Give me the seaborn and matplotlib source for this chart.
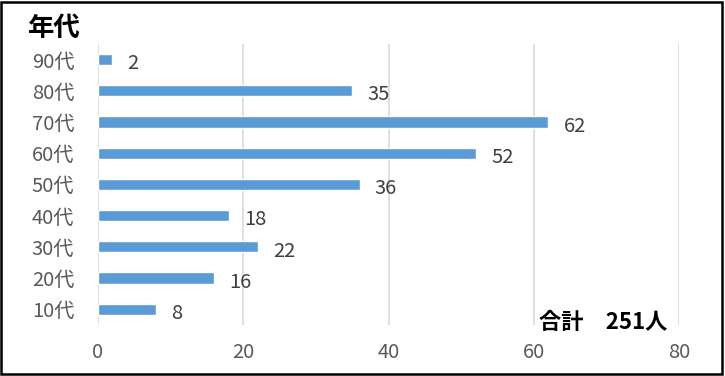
import matplotlib
matplotlib.use("Agg")
import matplotlib.pyplot as plt
import seaborn as sns
import pandas as pd
from matplotlib.patches import Rectangle

categorias = ["90代", "80代", "70代", "60代", "50代", "40代", "30代", "20代", "10代"]
valores = [2, 35, 62, 52, 36, 18, 22, 16, 8]
ticks_x = [0, 20, 40, 60, 80]
titulo = "年代"
total = "合計　251人"

df = pd.DataFrame({"年代": categorias, "人数": valores})

sns.set_theme(style="white")
plt.rcParams["font.family"] = ["Noto Sans CJK JP", "DejaVu Sans"]

fig = plt.figure(figsize=(7.25, 3.76), dpi=100)
ax = fig.add_axes([0.135, 0.136, 0.802, 0.747])

sns.barplot(data=df, x="人数", y="年代", order=categorias, color="#5B9BD5",
            saturation=1, width=0.36, ax=ax)

ax.set_xlim(0, 80)
ax.set_ylim(len(categorias) - 0.5, -0.5)
ax.set_xticks(ticks_x)
ax.xaxis.grid(True, color="#D9D9D9", linewidth=1.2)
ax.set_axisbelow(True)
for s in ax.spines.values():
    s.set_visible(False)
ax.tick_params(axis="both", length=0, labelsize=14.5, colors="#595959")
ax.tick_params(axis="x", pad=12)
ax.tick_params(axis="y", pad=17)
ax.set_xlabel("")
ax.set_ylabel("")

for i, v in enumerate(valores):
    ax.annotate(str(v), (v, i), xytext=(11, -3), textcoords="offset points",
                va="center", ha="left", fontsize=14.5, color="#404040")

fig.text(0.038, 0.925, titulo, fontsize=19, fontweight="bold", color="black",
         va="center", ha="left")
fig.text(0.921, 0.142, total, fontsize=16, fontweight="bold", color="black",
         va="center", ha="right")

fig.patches.append(Rectangle((0.002, 0.004), 0.994, 0.992, transform=fig.transFigure,
                             fill=False, edgecolor="black", linewidth=1.8))

fig.savefig("out.png", dpi=100)
